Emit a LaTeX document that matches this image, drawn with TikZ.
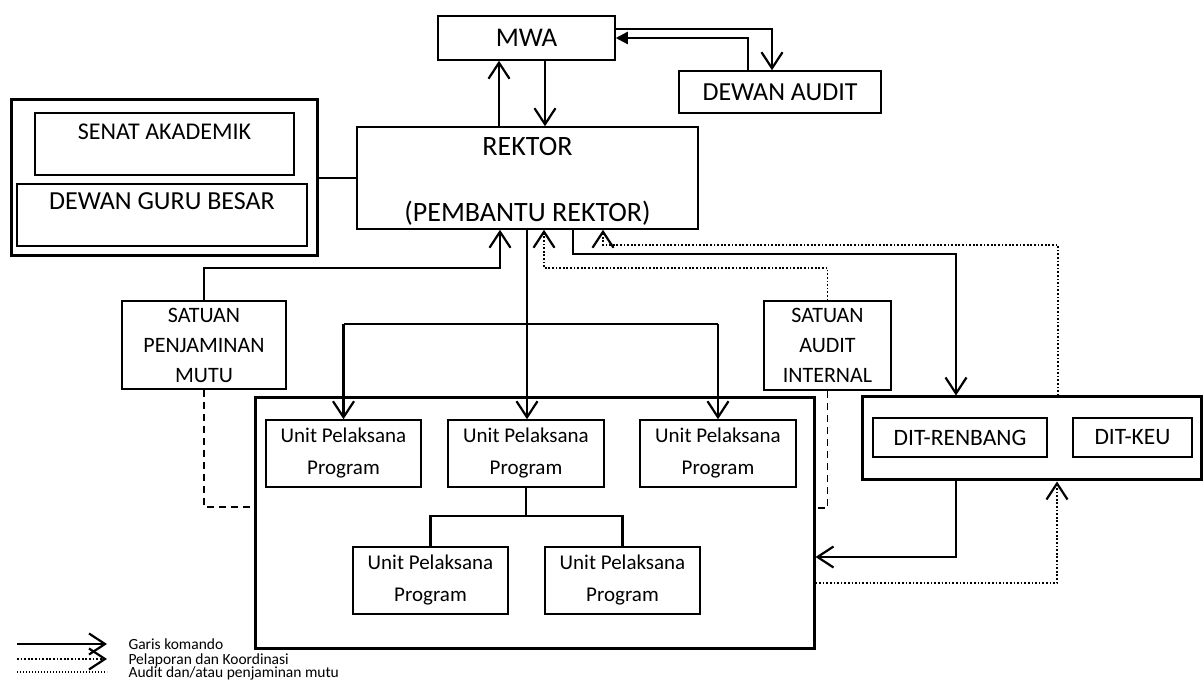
\documentclass[tikz,border=0pt]{standalone}
\usepackage{fontspec}
\setmainfont{Carlito}
\usetikzlibrary{arrows.meta}
\begin{document}
\begin{tikzpicture}[x=1pt,y=-1pt,
  box/.style={draw, line width=1.5pt, inner sep=0pt, align=center},
  bigbox/.style={draw, line width=3pt, inner sep=0pt},
  barb/.tip={Straight Barb[length=16pt,width=21pt,line width=2.2pt]},
  cmd/.style={line width=2.2pt, -barb},
  lin/.style={line width=2.2pt},
  rep/.style={line width=1.7pt, dash pattern=on 1.7pt off 1.9pt, -barb},
  aud/.style={line width=1.7pt, dash pattern=on 7pt off 5pt},
  fM/.style={font=\fontsize{27}{30}\selectfont},
  fA/.style={font=\fontsize{26}{30}\selectfont},
  fR/.style={font=\fontsize{28}{30}\selectfont},
  fS/.style={font=\fontsize{24}{28}\selectfont},
  fG/.style={font=\fontsize{26}{28}\selectfont},
  fD/.style={font=\fontsize{23.5}{28}\selectfont},
  fU/.style={font=\fontsize{21}{32}\selectfont},
  fT/.style={font=\fontsize{22}{30}\selectfont},
  fL/.style={font=\fontsize{15.5}{16}\selectfont},
]
\useasboundingbox (0,0) rectangle (1203,700);

% top
\node[box, fM, minimum width=177pt, minimum height=44pt] (mwa) at (526.5,38) {MWA};
\node[box, fA, minimum width=202pt, minimum height=42pt] (dewan) at (780,92) {DEWAN AUDIT};
\node[box, minimum width=341pt, minimum height=102pt] (rektor) at (527.5,178) {};
\node[fR, anchor=base] at (527.5,156) {REKTOR};
\node[fR, anchor=base] at (527.5,222) {(PEMBANTU REKTOR)};

% senat
\node[bigbox, minimum width=306pt, minimum height=156pt] (senat) at (164,178) {};
\node[box, minimum width=259pt, minimum height=62pt] (sa) at (164.5,144) {};
\node[fS, anchor=base] at (164.5,140) {SENAT AKADEMIK};
\node[box, minimum width=290pt, minimum height=62pt] (dgb) at (162,215) {};
\node[fG, anchor=base] at (162,210) {DEWAN GURU BESAR};

% satuan
\node[box, fT, minimum width=164pt, minimum height=88pt] (spm) at (204,345) {SATUAN\\PENJAMINAN\\MUTU};
\node[box, fT, minimum width=127pt, minimum height=89pt] (sai) at (827.5,345.5) {SATUAN\\AUDIT\\INTERNAL};

% big outer and units
\node[bigbox, minimum width=559pt, minimum height=250pt] (outer) at (534.5,523) {};
\node[box, fU, minimum width=155pt, minimum height=67pt] (u1) at (343.5,453.5) {Unit Pelaksana\\Program};
\node[box, fU, minimum width=156pt, minimum height=67pt] (u2) at (526,453.5) {Unit Pelaksana\\Program};
\node[box, fU, minimum width=156pt, minimum height=67pt] (u3) at (718,453.5) {Unit Pelaksana\\Program};
\node[box, fU, minimum width=155pt, minimum height=67pt] (u4) at (430.5,580.5) {Unit Pelaksana\\Program};
\node[box, fU, minimum width=155pt, minimum height=67pt] (u5) at (622.5,580.5) {Unit Pelaksana\\Program};

% DIT
\node[bigbox, minimum width=339pt, minimum height=83pt] (dit) at (1031.5,438.5) {};
\node[box, fD, minimum width=174pt, minimum height=39pt] (renbang) at (960,437.5) {DIT-RENBANG};
\node[box, fD, minimum width=119pt, minimum height=39pt] (keu) at (1132.5,437.5) {DIT-KEU};

% coordinates
\coordinate (xa) at (499,0);
\coordinate (xb) at (545,0);
\coordinate (jl) at (500,268);
\coordinate (hub) at (527,324);
\coordinate (js) at (544,268);
\coordinate (jd) at (603,245);
\coordinate (jr) at (956,254);
\coordinate (hub2) at (526,516);

% connectors top
\draw[cmd] (rektor.north -| xa) -- (mwa.south -| xa);
\draw[cmd] (mwa.south -| xb) -- (rektor.north -| xb);
\draw[cmd] ([yshift=9pt]mwa.east) -| ([xshift=-8pt]dewan.north);
\draw[line width=2.2pt, -{Triangle[length=12pt,width=12pt]}] ([xshift=-32pt]dewan.north) |- (mwa.east);
\draw[line width=1.5pt] (senat.east) -- (rektor.west);

% rektor down
\draw[cmd] (spm.north) |- (jl) -- (rektor.south -| jl);
\draw[lin] (rektor.south -| hub) -- (hub);
\draw[lin] (u1.north |- hub) -- (u3.north |- hub);
\draw[cmd] (u1.north |- hub) -- (u1.north);
\draw[cmd] (hub) -- (u2.north -| hub);
\draw[cmd] (u3.north |- hub) -- (u3.north);
\draw[rep] (sai.north) |- (js) -- (rektor.south -| js);
\draw[rep] ([xshift=26.5pt]dit.north) |- (jd) -- (rektor.south -| jd);
\draw[cmd] ([xshift=45.5pt]rektor.south) |- (jr) -- (dit.north -| jr);

% units tree
\draw[lin] (u2.south) -- (hub2);
\draw[lin] (u4.north) |- (hub2) -| (u5.north);

% audit dashed
\draw[aud] (spm.south) |- ([yshift=16pt]outer.west);
\draw[aud] (sai.south) |- ([yshift=15pt]outer.east);

% DIT to outer
\draw[cmd] ([xshift=-75.5pt]dit.south) |- ([yshift=-34pt]outer.east);
\draw[rep] ([yshift=-60pt]outer.east) -| ([xshift=25.5pt]dit.south);

% legend
\coordinate (l1a) at (17,644); \coordinate (l1b) at (107,644);
\coordinate (l2a) at (17,659); \coordinate (l2b) at (107,659);
\coordinate (l3a) at (17,672); \coordinate (l3b) at (107,672);
\draw[cmd] (l1a) -- (l1b);
\draw[rep] (l2a) -- (l2b);
\draw[line width=1.4pt, dash pattern=on 1.4pt off 1.6pt] (l3a) -- (l3b);
\node[fL, anchor=base west] at (125,649) {Garis komando};
\node[fL, anchor=base west] at (125,664) {Pelaporan dan Koordinasi};
\node[fL, anchor=base west] at (125,677.5) {Audit dan/atau penjaminan mutu};
\end{tikzpicture}
\end{document}
